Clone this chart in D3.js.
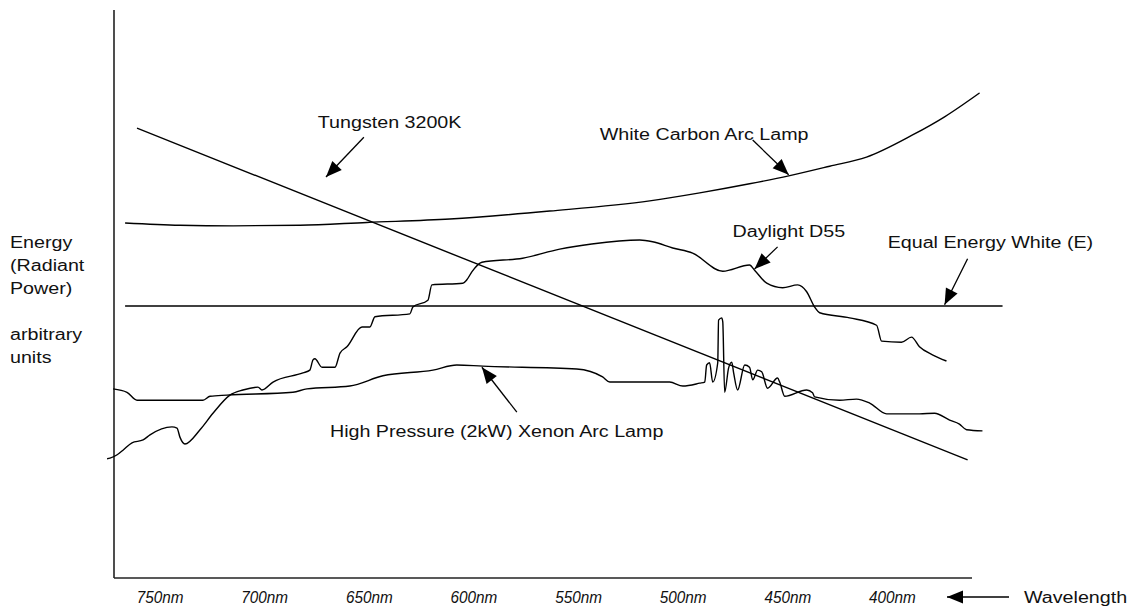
<!DOCTYPE html>
<html>
<head>
<meta charset="utf-8">
<script src="https://cdn.jsdelivr.net/npm/d3@7"></script>
<style>
  body { margin: 0; background: #fff; }
  text { font-family: "Liberation Sans", Arial, Helvetica, sans-serif; fill: #111; }
</style>
</head>
<body>
<div id="chart"></div>
<script>
// wavelength ticks (nm)
const xTicks = [750, 700, 650, 600, 550, 500, 450, 400];

// spectra: [wavelength nm, energy (arbitrary units 0-100)]
const tungsten = [[761.0, 79.2], [364.1, 20.8]];

const equalEnergy = [[766.7, 47.9], [347.4, 47.9]];

const whiteCarbon = [
  [766.7, 62.5], [740.5, 62.1], [715.1, 62.0], [683.1, 62.1], [651.2, 62.6],
  [611.5, 63.2], [563.8, 64.6], [516.0, 66.4], [492.1, 67.8], [468.3, 69.4],
  [449.6, 70.8], [430.0, 72.5], [412.4, 74.1], [390.4, 78.0], [375.1, 81.2],
  [358.4, 85.4]
];

const daylight = [
  [775.3, 21.0], [773.9, 21.1], [770.5, 21.7], [767.7, 22.5], [763.4, 23.8], [758.1, 24.3],
  [754.8, 25.2], [744.3, 26.6], [741.9, 26.4], [740.5, 24.8], [738.1, 23.6],
  [730.9, 26.1], [724.7, 29.0], [716.6, 32.2], [710.4, 33.1], [703.2, 33.6],
  [701.3, 33.1], [696.0, 34.5], [681.7, 36.1], [678.4, 36.6], [676.9, 38.4],
  [676.0, 38.6], [672.6, 37.1], [666.4, 37.1], [664.0, 39.6], [660.7, 40.7],
  [653.5, 44.2], [649.7, 44.2], [647.3, 46.0], [630.6, 46.5], [629.2, 47.7],
  [622.0, 48.9], [620.1, 51.6], [605.3, 51.9], [603.4, 52.5], [601.0, 53.9],
  [596.2, 55.6], [576.7, 56.3], [559.0, 57.9], [543.7, 58.8], [520.8, 59.5],
  [514.6, 59.2], [505.0, 58.1], [495.5, 57.2], [481.1, 54.0], [468.3, 55.1],
  [465.9, 54.2], [460.1, 51.9], [452.5, 51.1], [445.3, 51.6], [441.0, 50.4],
  [437.2, 47.7], [434.8, 46.7], [420.5, 45.8], [407.6, 44.5], [405.2, 41.7],
  [395.7, 41.5], [390.9, 42.4], [387.1, 40.7], [380.9, 39.3], [374.2, 38.2]
];

const xenon = [
  [772.4, 33.3], [765.8, 32.7], [761.0, 31.3], [729.5, 31.3], [726.1, 32.0],
  [718.0, 32.2], [686.5, 32.7], [679.8, 33.3], [659.3, 33.8], [643.5, 35.6],
  [619.6, 36.6], [608.2, 37.5], [595.8, 37.3], [550.9, 36.8], [538.5, 35.4],
  [535.1, 34.5], [506.5, 34.5], [500.2, 33.8], [492.1, 34.3], [489.7, 34.5],
  [488.8, 37.5], [487.4, 37.9], [485.9, 34.5], [483.5, 37.9], [483.1, 45.4],
  [481.6, 45.8], [481.1, 45.1], [480.2, 32.7], [478.3, 37.0], [476.8, 38.0],
  [475.9, 36.1], [474.0, 33.1], [470.6, 37.5], [468.3, 37.1], [466.8, 34.9],
  [464.4, 36.6], [462.5, 36.3], [459.7, 33.4], [454.9, 35.2], [453.9, 34.5],
  [451.5, 32.0], [441.0, 33.1], [438.2, 32.6], [437.2, 31.9], [425.3, 31.3],
  [417.2, 31.5], [410.9, 30.8], [402.8, 28.9], [387.1, 28.9], [379.9, 29.0],
  [372.7, 27.8], [368.0, 27.1], [364.6, 26.1], [357.0, 25.9]
];

// callouts: label anchor, arrow tail and arrow tip in data units
const labels = ["Tungsten 3200K", "White Carbon Arc Lamp", "Daylight D55",
                "Equal Energy White (E)", "High Pressure (2kW) Xenon Arc Lamp"];
const labelAt = [[674.6, 79.2], [539.9, 77.1], [476.4, 60.0], [402.3, 58.1], [668.8, 24.8]];
const arrowFrom = [[652.6, 77.6], [466.8, 77.1], [454.9, 58.3], [364.1, 56.2], [579.5, 29.2]];
const arrowTo = [[670.7, 70.6], [449.6, 71.0], [465.9, 54.4], [375.1, 48.1], [596.2, 37.1]];

const yLabel = ["Energy", "(Radiant", "Power)", "", "arbitrary", "units"];

const width = 1135, height = 607;
const plot = {left: 114, right: 972, top: 10, bottom: 578};
const textScale = 1.23;

const svg = d3.select("#chart").append("svg")
  .attr("width", width)
  .attr("height", height);

const x = d3.scaleLinear().domain([772, 362]).range([plot.left, plot.right]);
const y = d3.scaleLinear().domain([0, 100]).range([plot.bottom, plot.top]);

// arrow head
svg.append("defs").append("marker")
  .attr("id", "head")
  .attr("markerUnits", "userSpaceOnUse")
  .attr("viewBox", "-17 -8 18 16")
  .attr("refX", 0).attr("refY", 0)
  .attr("markerWidth", 18).attr("markerHeight", 16)
  .attr("orient", "auto")
  .append("path")
  .attr("d", "M0,0L-16,-6.5L-16,6.5Z")
  .attr("fill", "#000");

// axes (plain lines, no tick marks)
svg.append("line")
  .attr("x1", plot.left).attr("x2", plot.left)
  .attr("y1", plot.top).attr("y2", plot.bottom)
  .attr("stroke", "#222").attr("stroke-width", 1.6);
svg.append("line")
  .attr("x1", plot.left).attr("x2", plot.right)
  .attr("y1", plot.bottom).attr("y2", plot.bottom)
  .attr("stroke", "#222").attr("stroke-width", 1.6);

svg.append("g").selectAll("text")
  .data(xTicks)
  .join("text")
    .attr("transform", d => `translate(${x(d)},603) scale(0.9,1)`)
    .attr("text-anchor", "middle")
    .attr("font-style", "italic")
    .attr("font-size", "17px")
    .text(d => d + "nm");

// wavelength arrow and title
svg.append("line")
  .attr("x1", 1009).attr("x2", 947)
  .attr("y1", 597).attr("y2", 597)
  .attr("stroke", "#000").attr("stroke-width", 1.4)
  .attr("marker-end", "url(#head)");
svg.append("text")
  .attr("transform", `translate(1024,603) scale(${textScale},1)`)
  .attr("font-size", "16px")
  .text("Wavelength");

// y title
svg.append("g").selectAll("text")
  .data(yLabel)
  .join("text")
    .attr("transform", (d, i) => `translate(10,${248 + i * 23}) scale(${textScale},1)`)
    .attr("font-size", "16px")
    .text(d => d);

// curves
const line = d3.line()
  .x(d => x(d[0]))
  .y(d => y(d[1]))
  .curve(d3.curveMonotoneX);

[tungsten, equalEnergy, whiteCarbon, daylight, xenon].forEach(s => {
  svg.append("path")
    .datum(s)
    .attr("fill", "none")
    .attr("stroke", "#000")
    .attr("stroke-width", 1.4)
    .attr("stroke-linejoin", "round")
    .attr("d", line);
});

// callouts
const notes = svg.append("g");
labels.forEach((t, i) => {
  notes.append("line")
    .attr("x1", x(arrowFrom[i][0])).attr("y1", y(arrowFrom[i][1]))
    .attr("x2", x(arrowTo[i][0])).attr("y2", y(arrowTo[i][1]))
    .attr("stroke", "#000").attr("stroke-width", 1.3)
    .attr("marker-end", "url(#head)");
  notes.append("text")
    .attr("transform", `translate(${x(labelAt[i][0])},${y(labelAt[i][1])}) scale(${textScale},1)`)
    .attr("font-size", "16px")
    .text(t);
});
</script>
</body>
</html>
